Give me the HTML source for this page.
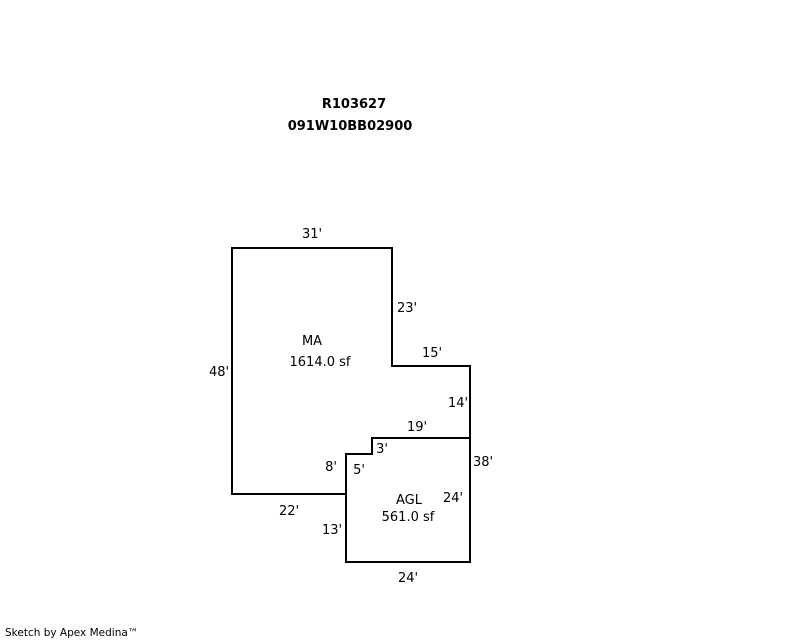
<!DOCTYPE html>
<html><head><style>
body{margin:0;background:#fff;width:800px;height:640px;overflow:hidden;position:relative;font-family:"DejaVu Sans","Liberation Sans",sans-serif;}
svg{position:absolute;left:0;top:0}
text{font-family:"DejaVu Sans","Liberation Sans",sans-serif;font-size:13px;fill:#000}
</style></head><body>
<svg width="800" height="640" viewBox="0 0 800 640">
<g fill="none" stroke="#000" stroke-width="2">
<polygon points="232,248 392,248 392,366 470,366 470,438 372,438 372,454 346,454 346,494 232,494"/>
<polyline points="346,494 346,562 470,562 470,438"/>
</g>
<text x="354" y="108" text-anchor="middle" font-weight="bold" style="font-size:13px">R103627</text>
<text x="350" y="130" text-anchor="middle" font-weight="bold" style="font-size:13px">091W10BB02900</text>
<text x="312" y="238" text-anchor="middle">31'</text>
<text x="407" y="312" text-anchor="middle">23'</text>
<text x="432" y="357" text-anchor="middle">15'</text>
<text x="458" y="407" text-anchor="middle">14'</text>
<text x="417" y="431" text-anchor="middle">19'</text>
<text x="382" y="453" text-anchor="middle">3'</text>
<text x="483" y="466" text-anchor="middle">38'</text>
<text x="331" y="471" text-anchor="middle">8'</text>
<text x="359" y="474" text-anchor="middle">5'</text>
<text x="219" y="376" text-anchor="middle">48'</text>
<text x="312" y="345" text-anchor="middle">MA</text>
<text x="320" y="366" text-anchor="middle">1614.0 sf</text>
<text x="409" y="504" text-anchor="middle">AGL</text>
<text x="408" y="521" text-anchor="middle">561.0 sf</text>
<text x="453" y="502" text-anchor="middle">24'</text>
<text x="289" y="515" text-anchor="middle">22'</text>
<text x="332" y="534" text-anchor="middle">13'</text>
<text x="408" y="582" text-anchor="middle">24'</text>
<text x="5" y="636" style="font-size:10.5px">Sketch by Apex Medina™</text>
</svg>
</body></html>
